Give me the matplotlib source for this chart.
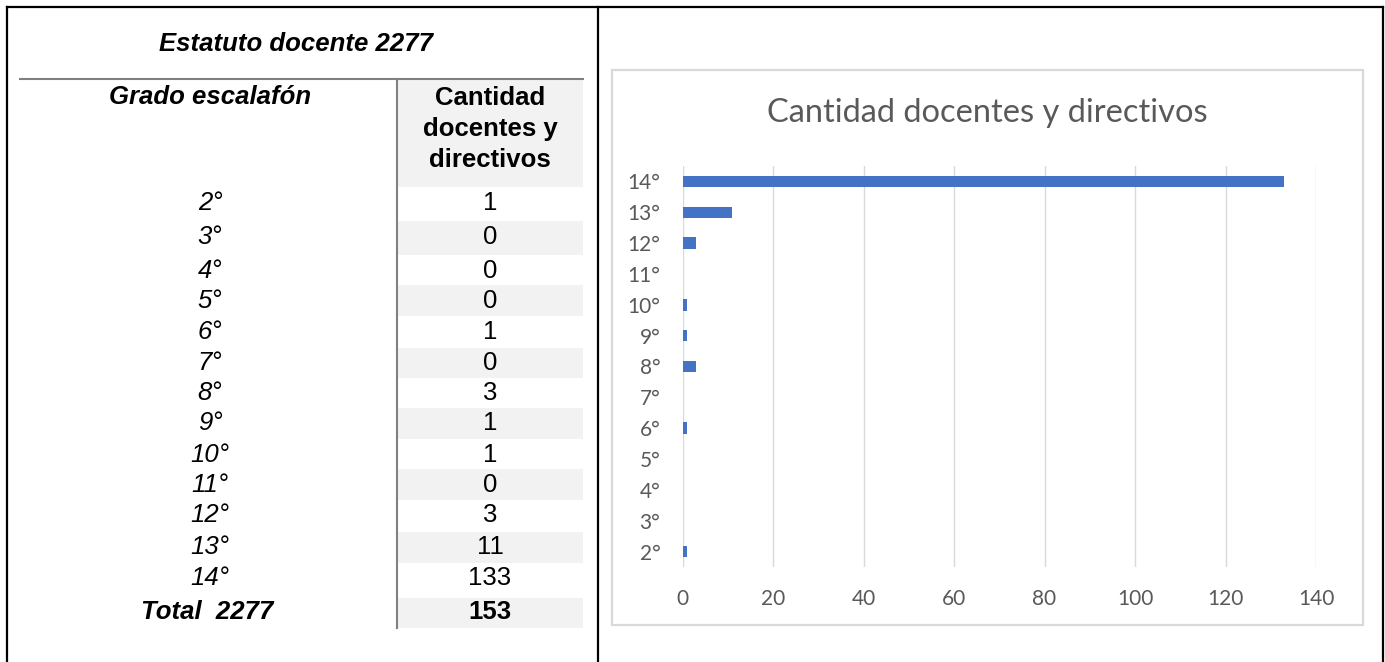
import matplotlib
matplotlib.use("Agg")
import matplotlib.pyplot as plt
from matplotlib.patches import Rectangle

# ---------------- data ----------------
table_title = "Estatuto docente 2277"
col1_header = "Grado escalafón"
col2_header = ["Cantidad", "docentes y", "directivos"]
grades = ["2°", "3°", "4°", "5°", "6°", "7°", "8°", "9°", "10°", "11°", "12°", "13°", "14°"]
counts = [1, 0, 0, 0, 1, 0, 3, 1, 1, 0, 3, 11, 133]
total_label = "Total  2277"
total_value = 153
chart_title = "Cantidad docentes y directivos"
x_ticks = [0, 20, 40, 60, 80, 100, 120, 140]

W, H = 1385, 662
fig = plt.figure(figsize=(W / 100, H / 100), dpi=100)

# background drawing axes in pixel coordinates
bg = fig.add_axes([0, 0, 1, 1])
bg.set_xlim(0, W)
bg.set_ylim(H, 0)
bg.axis("off")

# outer borders
bg.plot([6.5, 1382.5], [6.5, 6.5], color="black", lw=1.6, solid_capstyle="projecting")
bg.plot([6.5, 6.5], [6.5, H], color="black", lw=1.6)
bg.plot([597.5, 597.5], [6.5, H], color="black", lw=1.6)
bg.plot([1382.5, 1382.5], [6.5, H], color="black", lw=1.6)

TF = "Liberation Sans"
FS = 18.5

bg.text(296, 44, table_title, ha="center", va="center", fontsize=FS, fontweight="bold",
        style="italic", family=TF)

# header shading and rules
shade = "#f2f2f2"
bg.add_patch(Rectangle((397, 79), 186, 108, facecolor=shade, edgecolor="none"))
row_centers = [203, 237, 271, 301, 332, 363, 393, 423, 455, 485, 515, 547, 578]
band_tops = [221, 285, 348, 408, 469, 532]
band_bots = [255, 316, 378, 439, 500, 563]
for t, b in zip(band_tops, band_bots):
    bg.add_patch(Rectangle((397, t), 186, b - t, facecolor=shade, edgecolor="none"))
bg.add_patch(Rectangle((397, 598), 186, 30, facecolor=shade, edgecolor="none"))
bg.plot([20, 583], [79, 79], color="#808080", lw=1.5)
bg.plot([397, 397], [79, 628], color="#808080", lw=1.5)

bg.text(210, 97, col1_header, ha="center", va="center", fontsize=FS, fontweight="bold",
        style="italic", family=TF)
for i, line in enumerate(col2_header):
    bg.text(490, 98 + 31 * i, line, ha="center", va="center", fontsize=FS,
            fontweight="bold", family=TF)

for g, c, y in zip(grades, counts, row_centers):
    bg.text(210, y, g, ha="center", va="center", fontsize=FS, style="italic", family=TF)
    bg.text(490, y, str(c), ha="center", va="center", fontsize=FS, family=TF)
bg.text(207, 612, total_label, ha="center", va="center", fontsize=FS, fontweight="bold",
        style="italic", family=TF)
bg.text(490, 612, str(total_value), ha="center", va="center", fontsize=FS,
        fontweight="bold", family=TF)

# chart frame
bg.add_patch(Rectangle((611.5, 70), 751, 555, facecolor="white", edgecolor="#d9d9d9", lw=1.6))

CF = "Lato"
gray = "#595959"
bg.text(987, 113, chart_title, ha="center", va="center", fontsize=23.5, color=gray, family=CF)

# bar chart axes
left, right, top, bottom = 682.5, 1316, 166, 567
ax = fig.add_axes([left / W, 1 - bottom / H, (right - left) / W, (bottom - top) / H])
ax.set_facecolor("none")
ypos = list(range(len(grades)))
ax.barh(ypos, counts, height=0.37, color="#4472C4")
ax.set_ylim(-0.5, len(grades) - 0.5)
ax.set_xlim(0, 140)
ax.set_xticks(x_ticks)
ax.set_yticks(ypos)
ax.set_yticklabels(grades)
ax.xaxis.grid(True, color="#d9d9d9", lw=1)
ax.set_axisbelow(True)
for s in ax.spines.values():
    s.set_visible(False)
ax.tick_params(axis="both", length=0, colors=gray, labelsize=15)
ax.tick_params(axis="x", pad=16)
ax.tick_params(axis="y", pad=16)
for lab in ax.get_xticklabels() + ax.get_yticklabels():
    lab.set_family(CF)

fig.savefig("out.png", dpi=100)
